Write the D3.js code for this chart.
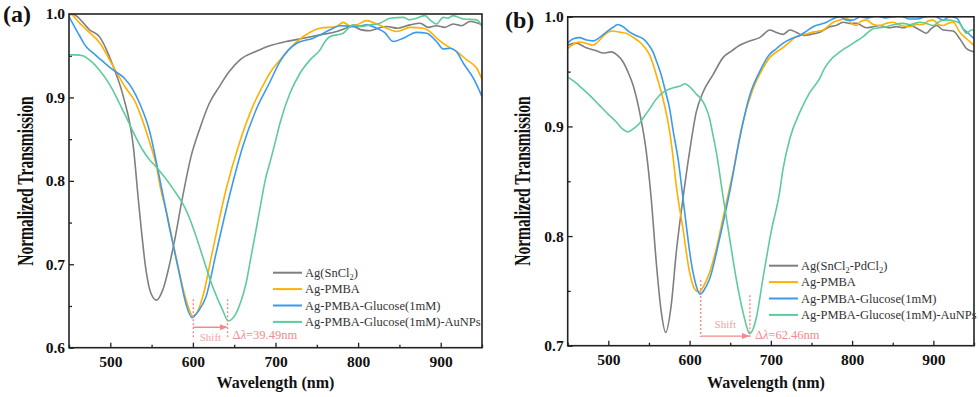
<!DOCTYPE html>
<html>
<head>
<meta charset="utf-8">
<script src="https://cdn.jsdelivr.net/npm/d3@7"></script>
<style>
  body { margin: 0; background: #fff; }
  text { font-family: "Liberation Serif", "Times New Roman", serif; }
</style>
</head>
<body>
<svg id="chart" width="979" height="397"></svg>
<script>
// ---- panel (a): [wavelength nm, normalized transmission]
const agSnA = [[450,1.003],[460,0.997],[475,0.981],[487.5,0.972],[495,0.958],[503.6,0.937],[515.8,0.901],[527.9,0.841],[534,0.777],[537.2,0.745],[543.2,0.693],[549.3,0.665],[556.2,0.657],[563.4,0.669],[575.5,0.717],[587.6,0.781],[597.7,0.829],[607.8,0.861],[619.9,0.893],[632,0.913],[644,0.931],[658,0.946],[676,0.955],[693,0.962],[713,0.967],[733.7,0.971],[754,0.975],[774,0.979],[785,0.983],[794,0.985],[804,0.981],[814.4,0.980],[824,0.983],[834.6,0.985],[848,0.983],[862.8,0.987],[875,0.989],[885,0.984],[895,0.986],[905,0.984],[915,0.988],[925,0.986],[935.5,0.991],[950,0.987]];
const pmbaA = [[450,1.003],[453,1.0],[462,0.99],[471.4,0.981],[487.5,0.965],[503.6,0.937],[519,0.911],[530,0.895],[539.5,0.871],[548,0.845],[555.8,0.818],[561,0.79],[567.4,0.765],[579.5,0.709],[589.6,0.665],[595,0.647],[599.8,0.638],[605,0.642],[611.9,0.661],[624,0.717],[640,0.789],[656.2,0.845],[672.4,0.889],[688.5,0.921],[693,0.929],[705.4,0.945],[717.5,0.959],[733.7,0.973],[753.9,0.983],[774,0.985],[782,0.990],[790,0.986],[798.3,0.987],[810.4,0.992],[822.5,0.988],[834.6,0.983],[846.7,0.979],[862.8,0.984],[879,0.983],[888,0.978],[895,0.971],[907.3,0.962],[919.4,0.955],[931.5,0.945],[943.6,0.935],[950,0.922]];
const glucA = [[450,0.997],[463.3,0.973],[470.6,0.961],[479.4,0.953],[490,0.944],[503.3,0.933],[517,0.923],[527,0.91],[535.5,0.893],[547.2,0.861],[559.3,0.805],[571.4,0.745],[583.5,0.689],[592,0.651],[599,0.636],[606,0.643],[615.9,0.661],[628,0.713],[644,0.781],[660.3,0.841],[676.4,0.885],[692.5,0.917],[705.4,0.943],[725.6,0.965],[745.8,0.971],[766,0.981],[778,0.986],[798.3,0.985],[810,0.987],[822.5,0.983],[832,0.978],[842.6,0.967],[854.7,0.971],[870.9,0.978],[883,0.977],[895,0.967],[903.1,0.958],[911.3,0.959],[919,0.955],[927.4,0.941],[939.5,0.923],[950,0.901]];
const auA = [[450,0.951],[458,0.951],[466.6,0.950],[476,0.944],[486.7,0.933],[495,0.922],[502.9,0.909],[511,0.893],[519,0.877],[528,0.858],[539.2,0.837],[547,0.826],[555.3,0.817],[563,0.808],[571.4,0.797],[579,0.786],[587.6,0.773],[594,0.76],[599.8,0.745],[606,0.727],[611.9,0.709],[624,0.673],[636,0.645],[642.9,0.632],[648,0.635],[652.2,0.641],[658,0.655],[664.3,0.677],[670,0.707],[676.4,0.741],[683,0.777],[688.5,0.805],[693,0.821],[700.6,0.85],[705.4,0.869],[717.5,0.905],[729.7,0.929],[741.8,0.945],[753.9,0.957],[760,0.967],[766,0.973],[782,0.977],[794,0.987],[804,0.985],[814.4,0.987],[826.5,0.989],[838.6,0.995],[854.7,0.996],[862,0.993],[870.9,0.995],[881,0.998],[888,0.992],[895,0.988],[903,0.996],[909,0.995],[915,0.998],[927.4,0.994],[943.6,0.993],[950,0.985]];

// ---- panel (b)
const agPdB = [[450,0.974],[460.6,0.976],[472,0.972],[485.2,0.969],[494,0.967],[503.6,0.968],[511,0.965],[518,0.959],[524,0.95],[530.3,0.938],[538.5,0.913],[546.7,0.877],[552.8,0.834],[559,0.776],[565.1,0.731],[570.5,0.712],[577.4,0.737],[583.6,0.785],[591.8,0.834],[600,0.877],[608.2,0.913],[616.4,0.931],[628.7,0.947],[641.4,0.963],[652,0.969],[661.6,0.974],[673.9,0.978],[686.2,0.981],[698.8,0.988],[706,0.986],[715.2,0.984],[723.4,0.988],[731,0.986],[739.8,0.983],[750,0.984],[760.3,0.986],[772.6,0.991],[780,0.992],[789,0.995],[797,0.994],[805.5,0.994],[817.8,0.990],[826,0.991],[834.2,0.992],[845,0.990],[854.7,0.991],[863,0.990],[871,0.992],[883.3,0.988],[891.6,0.985],[897,0.989],[903.9,0.992],[912,0.988],[924.3,0.987],[932.5,0.980],[940.8,0.971],[950,0.968]];
const pmbaB = [[450,0.971],[457,0.975],[464.8,0.977],[472,0.976],[481,0.974],[487,0.977],[493.4,0.982],[500,0.986],[505.7,0.987],[514,0.986],[522,0.985],[531,0.981],[538.6,0.977],[545,0.972],[550.9,0.965],[555,0.957],[559,0.947],[567.3,0.925],[575.5,0.895],[579.5,0.873],[583.6,0.846],[591.8,0.807],[600,0.767],[606,0.752],[611.5,0.749],[617,0.754],[624.7,0.767],[633,0.789],[641,0.816],[653.3,0.858],[665.6,0.904],[677.9,0.934],[690.2,0.953],[698.8,0.963],[707,0.968],[715.2,0.972],[723,0.977],[731.6,0.982],[742,0.984],[752.1,0.986],[764.4,0.988],[776.7,0.995],[785,0.997],[793.2,0.999],[799,0.994],[805.5,0.992],[811,0.996],[817.8,0.997],[826,0.993],[834.2,0.992],[842,0.994],[850.5,0.995],[860,0.992],[871,0.991],[879,0.993],[887.4,0.993],[893,0.996],[899.7,0.997],[906,0.993],[912,0.992],[918,0.994],[924.3,0.995],[932.5,0.986],[940.8,0.980],[950,0.974]];
const glucB = [[450,0.976],[457,0.98],[464.8,0.981],[472,0.979],[481,0.978],[489,0.981],[497.5,0.986],[505,0.990],[511.9,0.993],[518,0.991],[526.3,0.986],[534,0.983],[542.6,0.980],[549,0.975],[554.9,0.968],[560,0.958],[565.1,0.947],[570,0.933],[575.5,0.916],[580,0.895],[585.7,0.871],[593.9,0.822],[602,0.776],[608,0.755],[613.1,0.747],[618,0.751],[624.7,0.761],[637,0.798],[649.3,0.840],[661.6,0.889],[673.9,0.928],[686.2,0.950],[698.8,0.966],[707,0.971],[715.2,0.976],[725,0.980],[735.7,0.983],[744,0.987],[752.1,0.991],[760,0.993],[768.5,0.995],[776,0.998],[784.9,1.0],[793,0.997],[801.3,0.997],[810,1.0],[820,0.999],[830,1.001],[840,0.999],[850,1.0],[860,1.001],[870,0.998],[880,0.998],[890,1.0],[900,1.001],[912,0.997],[920,1.0],[928.5,0.999],[936.7,0.989],[942.9,0.985],[950,0.980]];
const auB = [[450,0.945],[458,0.941],[468.8,0.934],[479,0.927],[489.4,0.919],[500,0.911],[509.8,0.904],[517,0.898],[524.2,0.895],[531,0.898],[538.6,0.903],[545,0.91],[550.9,0.916],[558,0.924],[567.3,0.931],[575,0.934],[583.6,0.936],[589,0.937],[593.9,0.939],[599,0.937],[604.1,0.933],[609,0.929],[614.3,0.925],[619,0.919],[624.7,0.907],[628,0.895],[632.8,0.877],[641,0.837],[649.3,0.798],[657.4,0.761],[665.6,0.731],[670,0.718],[673.9,0.711],[678,0.715],[682,0.725],[690.2,0.761],[700.4,0.804],[710.3,0.838],[715.2,0.862],[723.4,0.889],[735.7,0.913],[748,0.931],[760.3,0.944],[766,0.953],[772.6,0.960],[784.9,0.968],[797.2,0.974],[813.6,0.982],[825.9,0.989],[834,0.99],[842.4,0.991],[852,0.993],[862.8,0.994],[872,0.993],[883.3,0.995],[891,0.994],[899.7,0.992],[906,0.995],[912,0.997],[920,0.997],[926,0.996],[932.5,0.994],[940.8,0.985],[946.9,0.988],[950,0.988]];

// ticks
const xTicks = [500, 600, 700, 800, 900];
const xMinor = [450, 550, 650, 750, 850, 950];
const yTicksA = [0.6, 0.7, 0.8, 0.9, 1.0];
const yMinorA = [0.65, 0.75, 0.85, 0.95];
const yTicksB = [0.7, 0.8, 0.9, 1.0];
const yMinorB = [0.75, 0.85, 0.95];

// legend labels: [text, subscript] pieces
const legendA = [[["Ag(SnCl",""],["2","s"],[")",""]], [["Ag-PMBA",""]], [["Ag-PMBA-Glucose(1mM)",""]], [["Ag-PMBA-Glucose(1mM)-AuNPs",""]]];
const legendB = [[["Ag(SnCl",""],["2","s"],["-PdCl",""],["2","s"],[")",""]], [["Ag-PMBA",""]], [["Ag-PMBA-Glucose(1mM)",""]], [["Ag-PMBA-Glucose(1mM)-AuNPs",""]]];

// shift annotation: dip positions (nm) and label
const shiftA = [600.5, 642];
const shiftB = [613.6, 674.2];
const shiftLabelA = "39.49nm";
const shiftLabelB = "62.46nm";

const colors = ["#7f7f7f", "#ffb000", "#3a9bee", "#5ecb9a"];
const annoColor = "#f28a8a";

const svg = d3.select("#chart");
svg.append("defs").append("marker")
  .attr("id", "arrow").attr("viewBox", "0 0 10 10").attr("refX", 9).attr("refY", 5)
  .attr("markerWidth", 6).attr("markerHeight", 6).attr("orient", "auto")
  .append("path").attr("d", "M0,1L10,5L0,9Z").attr("fill", annoColor);

function drawPanel(p) {
  const x = d3.scaleLinear().domain([450, 950]).range([p.left, p.right]);
  const y = d3.scaleLinear().domain(p.yDomain).range([p.bottom, p.top]);
  const g = svg.append("g");

  g.append("clipPath").attr("id", "clip" + p.id).append("rect")
    .attr("x", p.left).attr("y", p.top).attr("width", p.right - p.left).attr("height", p.bottom - p.top);

  // axes (inward ticks)
  g.append("g").attr("transform", "translate(0," + p.bottom + ")")
    .call(d3.axisBottom(x).tickValues(xTicks).tickSize(-5).tickPadding(8).tickFormat(d3.format("d")));
  g.append("g").attr("transform", "translate(0," + p.bottom + ")")
    .call(d3.axisBottom(x).tickValues(xMinor).tickSize(-3).tickFormat(""));
  g.append("g").attr("transform", "translate(" + p.left + ",0)")
    .call(d3.axisLeft(y).tickValues(p.yTicks).tickSize(-5).tickPadding(4).tickFormat(d3.format(".1f")));
  g.append("g").attr("transform", "translate(" + p.left + ",0)")
    .call(d3.axisLeft(y).tickValues(p.yMinor).tickSize(-3).tickFormat(""));
  g.selectAll(".domain").remove();
  g.selectAll(".tick line").attr("stroke", "#222").attr("stroke-width", 1.3);
  g.selectAll(".tick text").attr("font-family", "Liberation Serif").attr("font-weight", "bold")
    .attr("font-size", 15.5).attr("fill", "#111");

  // curves
  const line = d3.line().x(d => x(d[0])).y(d => y(d[1])).curve(d3.curveMonotoneX);
  const lines = g.append("g").attr("clip-path", "url(#clip" + p.id + ")");
  p.series.forEach((s, i) => {
    lines.append("path").datum(s).attr("d", line)
      .attr("fill", "none").attr("stroke", colors[i]).attr("stroke-width", 1.6);
  });

  // frame
  g.append("rect").attr("x", p.left).attr("y", p.top)
    .attr("width", p.right - p.left).attr("height", p.bottom - p.top)
    .attr("fill", "none").attr("stroke", "#222").attr("stroke-width", 1.6);

  // axis titles
  g.append("text").attr("x", p.xTitleX).attr("y", 388).attr("text-anchor", "middle")
    .attr("font-weight", "bold").attr("font-size", 16).attr("fill", "#111").text("Wavelength (nm)");
  g.append("text").attr("transform", "translate(" + p.yTitleX + ",181) rotate(-90) scale(0.66,1)")
    .attr("text-anchor", "middle").attr("font-weight", "bold").attr("font-size", 23.5).attr("fill", "#111")
    .text("Normalized Transmission");
  g.append("text").attr("x", p.tagX).attr("y", p.tagY).attr("font-weight", "bold")
    .attr("font-size", 24).attr("fill", "#111").text(p.tag);

  // legend
  p.legend.forEach((parts, i) => {
    const ly = p.legY + i * 16.4;
    g.append("line").attr("x1", p.legX).attr("x2", p.legX + 29).attr("y1", ly).attr("y2", ly)
      .attr("stroke", colors[i]).attr("stroke-width", 2);
    const t = g.append("text").attr("x", p.legX + 32).attr("y", ly + 4.3)
      .attr("font-size", 12.5).attr("fill", "#333");
    let sub = false;
    parts.forEach(pt => {
      const ts = t.append("tspan").text(pt[0]);
      if (pt[1] === "s") { ts.attr("font-size", 8.5).attr("dy", 3); sub = true; }
      else if (sub) { ts.attr("dy", -3); sub = false; }
    });
  });

  // shift annotation
  const [s0, s1] = p.shift;
  const a = g.append("g").attr("stroke", annoColor).attr("stroke-width", 1.4).attr("stroke-dasharray", "2,2");
  a.append("line").attr("x1", x(s0)).attr("x2", x(s0)).attr("y1", y(p.dash0[0])).attr("y2", y(p.dash0[1]));
  a.append("line").attr("x1", x(s1)).attr("x2", x(s1)).attr("y1", y(p.dash1[0])).attr("y2", y(p.dash1[1]));
  g.append("line").attr("x1", x(s0)).attr("x2", x(s1) - 1).attr("y1", y(p.arrowY)).attr("y2", y(p.arrowY))
    .attr("stroke", annoColor).attr("stroke-width", 1.3).attr("marker-end", "url(#arrow)");
  g.append("text").attr("x", x((s0 + s1) / 2)).attr("y", y(p.shiftTextY)).attr("text-anchor", "middle")
    .attr("font-size", 11).attr("fill", "#f4a0a0").text("Shift");
  const dt = g.append("text").attr("x", x(s1) + 5).attr("y", y(p.deltaY))
    .attr("font-size", 12.5).attr("fill", annoColor);
  dt.append("tspan").text("Δ");
  dt.append("tspan").attr("font-style", "italic").text("λ");
  dt.append("tspan").text("=" + p.shiftLabel);
}

drawPanel({
  id: "a", tag: "(a)", tagX: 3, tagY: 22,
  left: 69, right: 482, top: 14, bottom: 347.7,
  yDomain: [0.6, 1.0], yTicks: yTicksA, yMinor: yMinorA,
  series: [agSnA, pmbaA, glucA, auA], legend: legendA,
  legX: 273, legY: 272.7, xTitleX: 275.5, yTitleX: 33,
  shift: shiftA, dash0: [0.658, 0.61], dash1: [0.658, 0.61], arrowY: 0.6245,
  shiftTextY: 0.6085, deltaY: 0.611, shiftLabel: shiftLabelA
});
drawPanel({
  id: "b", tag: "(b)", tagX: 505, tagY: 28,
  left: 567.7, right: 974, top: 16.8, bottom: 345.7,
  yDomain: [0.7, 1.0], yTicks: yTicksB, yMinor: yMinorB,
  series: [agPdB, pmbaB, glucB, auB], legend: legendB,
  legX: 769, legY: 265.7, xTitleX: 766, yTitleX: 530,
  shift: shiftB, dash0: [0.76, 0.708], dash1: [0.746, 0.708], arrowY: 0.7088,
  shiftTextY: 0.716, deltaY: 0.706, shiftLabel: shiftLabelB
});
</script>
</body>
</html>
